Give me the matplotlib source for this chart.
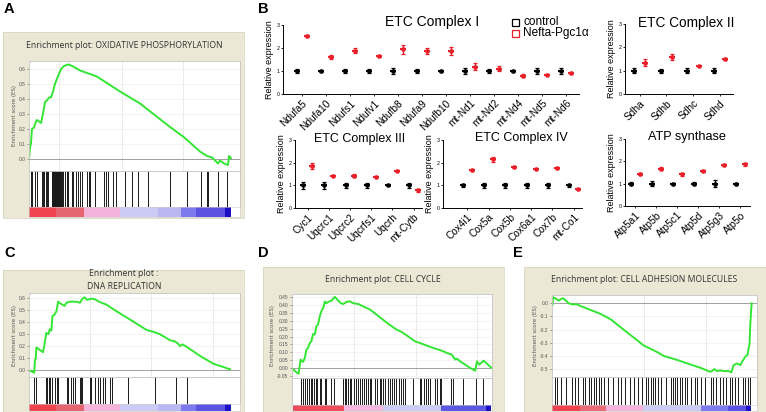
import numpy as np
import matplotlib
matplotlib.use("Agg")
import matplotlib.pyplot as plt
from matplotlib.patches import Rectangle

plt.rcParams["font.family"] = ["Liberation Sans", "DejaVu Sans"]
plt.rcParams["axes.unicode_minus"] = False

W, H = 766, 412
BEIGE = "#ebe8d6"
GREEN = "#33e633"
RED = "#e8202a"

# ---------------- panel B data ----------------
c1_genes = ["Ndufa5", "Ndufa10", "Ndufs1", "Ndufv1", "Ndufb8", "Ndufa9", "Ndufb10",
            "mt-Nd1", "mt-Nd2", "mt-Nd4", "mt-Nd5", "mt-Nd6"]
c1_ctrl = [1.0] * 12
c1_ctrl_err = [0.08, 0.05, 0.1, 0.07, 0.12, 0.1, 0.03, 0.15, 0.1, 0.05, 0.15, 0.12]
c1_pgc = [2.53, 1.62, 1.88, 1.65, 1.95, 1.85, 1.88, 1.18, 1.1, 0.8, 0.83, 0.92]
c1_pgc_err = [0.05, 0.08, 0.1, 0.02, 0.2, 0.13, 0.17, 0.15, 0.12, 0.07, 0.02, 0.03]

c2_genes = ["Sdha", "Sdhb", "Sdhc", "Sdhd"]
c2_ctrl = [1.0] * 4
c2_ctrl_err = [0.1, 0.08, 0.1, 0.1]
c2_pgc = [1.33, 1.58, 1.2, 1.5]
c2_pgc_err = [0.15, 0.12, 0.02, 0.05]

c3_genes = ["Cyc1", "Uqcrc1", "Uqcrc2", "Uqcrfs1", "Uqcrh", "mt-Cytb"]
c3_ctrl = [1.0] * 6
c3_ctrl_err = [0.15, 0.15, 0.1, 0.12, 0.03, 0.1]
c3_pgc = [1.85, 1.42, 1.42, 1.37, 1.65, 0.78]
c3_pgc_err = [0.13, 0.03, 0.06, 0.02, 0.02, 0.06]

c4_genes = ["Cox4i1", "Cox5a", "Cox5b", "Cox6a1", "Cox7b", "mt-Co1"]
c4_ctrl = [1.0] * 6
c4_ctrl_err = [0.08, 0.12, 0.12, 0.12, 0.12, 0.08]
c4_pgc = [1.67, 2.15, 1.8, 1.72, 1.75, 0.82]
c4_pgc_err = [0.03, 0.1, 0.02, 0.02, 0.03, 0.03]

atp_genes = ["Atp5a1", "Atp5b", "Atp5c1", "Atp5d", "Atp5g3", "Atp5o"]
atp_ctrl = [1.0] * 6
atp_ctrl_err = [0.06, 0.12, 0.05, 0.08, 0.15, 0.05]
atp_pgc = [1.43, 1.67, 1.43, 1.57, 1.83, 1.87]
atp_pgc_err = [0.04, 0.07, 0.07, 0.04, 0.04, 0.06]

# ---------------- GSEA data (x = fraction of ranked list) ----------------
a_x = [0, 0.005, 0.009, 0.014, 0.024, 0.033, 0.038, 0.047, 0.057, 0.066, 0.076, 0.085,
       0.095, 0.104, 0.114, 0.123, 0.137, 0.152, 0.166, 0.188, 0.204, 0.242, 0.321, 0.431,
       0.526, 0.653, 0.739, 0.81, 0.844, 0.867, 0.882, 0.896, 0.905, 0.924, 0.943, 0.948, 0.957]
a_es = [0.0, 0.08, 0.1, 0.2, 0.21, 0.25, 0.26, 0.25, 0.24, 0.3, 0.38, 0.39,
        0.41, 0.41, 0.45, 0.5, 0.55, 0.6, 0.62, 0.63, 0.62, 0.59, 0.55, 0.45,
        0.37, 0.23, 0.14, 0.05, 0.02, 0.01, -0.01, -0.03, -0.01, -0.03, -0.04, 0.02, 0.005]
a_hits = [0.009, 0.016, 0.028, 0.036, 0.060, 0.065, 0.071, 0.079, 0.084, 0.092, 0.107, 0.109,
          0.112, 0.114, 0.117, 0.119, 0.122, 0.124, 0.126, 0.129, 0.131, 0.134, 0.136, 0.139,
          0.141, 0.143, 0.145, 0.148, 0.150, 0.155, 0.163, 0.171, 0.179, 0.186, 0.202, 0.210,
          0.221, 0.231, 0.242, 0.253, 0.273, 0.286, 0.291, 0.313, 0.357, 0.365, 0.376, 0.400,
          0.411, 0.455, 0.487, 0.518, 0.562, 0.668, 0.747, 0.814, 0.842, 0.850, 0.897, 0.937]

c_x = [0, 0.019, 0.025, 0.028, 0.032, 0.035, 0.066, 0.073, 0.082, 0.092, 0.098, 0.106,
       0.111, 0.12, 0.13, 0.138, 0.153, 0.169, 0.177, 0.193, 0.217, 0.233, 0.241, 0.253,
       0.264, 0.275, 0.296, 0.312, 0.335, 0.367, 0.415, 0.494, 0.557, 0.589, 0.62, 0.668,
       0.691, 0.707, 0.715, 0.728, 0.747, 0.81, 0.873, 0.953]
c_es = [0.0, -0.015, -0.02, 0.08, 0.1, 0.19, 0.15, 0.21, 0.31, 0.3, 0.34, 0.33,
        0.45, 0.46, 0.49, 0.57, 0.55, 0.535, 0.56, 0.57, 0.57, 0.567, 0.56, 0.595,
        0.606, 0.585, 0.595, 0.59, 0.567, 0.545, 0.49, 0.405, 0.335, 0.32, 0.3, 0.25,
        0.24, 0.22, 0.2, 0.215, 0.195, 0.12, 0.055, 0.008]
c_hits = [0.025, 0.032, 0.079, 0.085, 0.095, 0.101, 0.110, 0.123, 0.134, 0.139, 0.179, 0.186,
          0.199, 0.210, 0.218, 0.242, 0.246, 0.253, 0.289, 0.294, 0.313, 0.325, 0.336, 0.352,
          0.360, 0.384, 0.392, 0.468, 0.597, 0.695, 0.750]

d_x = [0, 0.022, 0.033, 0.043, 0.055, 0.064, 0.072, 0.08, 0.089, 0.097, 0.105, 0.114,
       0.122, 0.13, 0.139, 0.147, 0.156, 0.164, 0.172, 0.181, 0.197, 0.214, 0.231, 0.244,
       0.256, 0.273, 0.289, 0.306, 0.331, 0.356, 0.39, 0.423, 0.465, 0.498, 0.523, 0.548,
       0.582, 0.615, 0.649, 0.682, 0.716, 0.749, 0.774, 0.799, 0.816, 0.824, 0.841, 0.866,
       0.891, 0.916, 0.925, 0.936, 0.958, 0.983, 1.0]
d_es = [0.0, -0.025, -0.034, 0.055, 0.04, 0.065, 0.118, 0.128, 0.16, 0.17, 0.216, 0.212,
        0.265, 0.275, 0.328, 0.36, 0.38, 0.42, 0.41, 0.418, 0.426, 0.45, 0.426, 0.41,
        0.405, 0.418, 0.422, 0.41, 0.405, 0.39, 0.37, 0.338, 0.296, 0.265, 0.244, 0.229,
        0.2, 0.17, 0.155, 0.139, 0.124, 0.111, 0.097, 0.086, 0.055, 0.061, 0.044, 0.023,
        0.002, -0.015, 0.044, 0.023, 0.048, 0.019, 0.002]
d_hits = [0.043, 0.055, 0.067, 0.075, 0.083, 0.093, 0.1, 0.11, 0.12, 0.127, 0.138, 0.147,
          0.163, 0.172, 0.197, 0.21, 0.255, 0.263, 0.272, 0.28, 0.288, 0.297, 0.308, 0.322,
          0.33, 0.338, 0.35, 0.36, 0.372, 0.38, 0.388, 0.397, 0.417, 0.427, 0.438, 0.447,
          0.455, 0.463, 0.48, 0.488, 0.5, 0.51, 0.522, 0.533, 0.543, 0.555, 0.563, 0.605,
          0.638, 0.647, 0.66, 0.672, 0.68, 0.688, 0.713, 0.725, 0.738, 0.747, 0.797, 0.805,
          0.855, 0.922, 0.955]

e_x = [0.003, 0.005, 0.016, 0.033, 0.041, 0.054, 0.065, 0.081, 0.098, 0.122, 0.138, 0.187,
       0.236, 0.285, 0.333, 0.382, 0.447, 0.512, 0.545, 0.61, 0.675, 0.724, 0.772, 0.78,
       0.792, 0.805, 0.821, 0.837, 0.862, 0.875, 0.886, 0.902, 0.919, 0.927, 0.943, 0.954,
       0.959, 0.964, 0.967, 0.971, 0.974]
e_es = [-0.01, 0.046, 0.038, 0.02, 0.03, 0.038, 0.025, 0.0, -0.008, -0.008, -0.02, -0.05,
        -0.08, -0.12, -0.18, -0.24, -0.32, -0.37, -0.4, -0.43, -0.465, -0.49, -0.52, -0.515,
        -0.5, -0.515, -0.51, -0.515, -0.515, -0.525, -0.47, -0.457, -0.47, -0.445, -0.406, -0.39,
        -0.343, -0.305, -0.165, -0.063, 0.0]
e_hits = [0.013, 0.026, 0.046, 0.07, 0.098, 0.114, 0.127, 0.151, 0.163, 0.179, 0.192, 0.205,
          0.216, 0.228, 0.241, 0.254, 0.273, 0.298, 0.322, 0.335, 0.358, 0.379, 0.4, 0.42,
          0.439, 0.46, 0.468, 0.481, 0.493, 0.504, 0.517, 0.533, 0.558, 0.579, 0.59, 0.602,
          0.611, 0.623, 0.634, 0.647, 0.66, 0.676, 0.696, 0.709, 0.725, 0.745, 0.774, 0.785,
          0.802, 0.818, 0.834, 0.85, 0.867, 0.878, 0.891, 0.907, 0.932, 0.94, 0.956, 0.964]

# ranked-list colour bar: (start, end, colour)
cb_ac = [(0, 0.13, "#ee4450"), (0.13, 0.26, "#e6646f"), (0.26, 0.43, "#f5b3dc"),
         (0.43, 0.61, "#cccbf5"), (0.61, 0.72, "#b9b8f3"), (0.72, 0.79, "#7d7aee"),
         (0.79, 0.93, "#5b52e1"), (0.93, 0.955, "#1c10c2")]
cb_d = [(0.005, 0.26, "#ec4c5c"), (0.26, 0.455, "#f3b6dc"), (0.455, 0.747, "#cccbf5"),
        (0.747, 0.97, "#5c56e2"), (0.97, 0.997, "#1c10c2")]
cb_e = [(0, 0.135, "#ee4450"), (0.135, 0.265, "#ea6a78"), (0.265, 0.444, "#f5b3dc"),
        (0.444, 0.728, "#cccbf5"), (0.728, 0.859, "#7d7aee"), (0.859, 0.948, "#5b52e1"),
        (0.948, 0.972, "#1c10c2")]


def rect(x0, y0, x1, y1):
    return [x0 / W, 1 - y1 / H, (x1 - x0) / W, (y1 - y0) / H]


fig = plt.figure(figsize=(W / 100, H / 100), dpi=100)


def gsea(box, es_box, hit_box, cb_box, title, title_xy, xs, ys, ylim, yticks, fmt,
         hits, segs, vgrid):
    bg = fig.add_axes(rect(*box), zorder=0)
    bg.set_facecolor(BEIGE)
    bg.set_xticks([]); bg.set_yticks([])
    for s in bg.spines.values():
        s.set_color("#d6d2bd"); s.set_linewidth(0.5)

    ax = fig.add_axes(rect(*es_box), zorder=1)
    for g in vgrid:
        ax.axvline(g, color="#e6e6e6", lw=0.6, zorder=0)
    for t in yticks:
        ax.axhline(t, color="#efefef", lw=0.5, zorder=0)
    ax.axhline(0, color="#a0a0a0", lw=0.7, zorder=1)
    ax.plot(xs, ys, color=GREEN, lw=1.4, zorder=2)
    ax.set_xlim(0, 1); ax.set_ylim(*ylim)
    ax.set_xticks([])
    ax.set_yticks(yticks)
    ax.set_yticklabels([fmt % t for t in yticks])
    ax.tick_params(axis="y", labelsize=3.5, length=1.5, width=0.4, pad=1,
                   colors="#555555")
    ax.set_ylabel("Enrichment score (ES)", fontsize=4, labelpad=1.5, color="#555555",
                  family="DejaVu Sans")
    for s in ax.spines.values():
        s.set_color("#c4c4c4"); s.set_linewidth(0.6)

    hx = fig.add_axes(rect(*hit_box), zorder=1)
    hx.vlines(hits, 0, 1, color="#1a1a1a", lw=0.7)
    hx.set_xlim(0, 1); hx.set_ylim(0, 1)
    hx.set_xticks([]); hx.set_yticks([])
    for s in hx.spines.values():
        s.set_color("#c4c4c4"); s.set_linewidth(0.6)

    cx = fig.add_axes(rect(*cb_box), zorder=1)
    for a, b, c in segs:
        cx.axvspan(a, b, color=c, lw=0)
    cx.set_xlim(0, 1); cx.set_ylim(0, 1)
    cx.set_xticks([]); cx.set_yticks([])
    for s in cx.spines.values():
        s.set_color("#d0d0d0"); s.set_linewidth(0.4)

    fig.text(title_xy[0] / W, 1 - title_xy[1] / H, title, fontsize=6.2,
             family="Open Sans", color="#333333", ha="center", va="center",
             linespacing=1.5)


def expr(axbox, genes, ctrl, ctrl_err, pgc, pgc_err, title, title_xy, title_fs, xlim,
         off=0.42):
    ax = fig.add_axes(rect(*axbox))
    x = np.arange(len(genes))
    for xx, m, e, col in [(x, ctrl, ctrl_err, "k"), (x + off, pgc, pgc_err, RED)]:
        ax.errorbar(xx, m, yerr=e, fmt="o", color=col, ms=2.3, capsize=1.6,
                    elinewidth=1.0, capthick=0.9, zorder=3)
        ax.plot(xx, m, "_", color=col, ms=5, mew=1.5, zorder=3)
    ax.set_ylim(0, 3); ax.set_xlim(*xlim)
    ax.set_yticks([0, 1, 2, 3])
    ax.tick_params(axis="y", labelsize=3.8, length=1.5, width=0.6, pad=1)
    ax.set_xticks(x + off / 2)
    ax.set_xticklabels(genes, rotation=45, ha="right", rotation_mode="anchor",
                       fontsize=7.3)
    ax.tick_params(axis="x", length=1.5, width=0.6, pad=1.5)
    ax.set_ylabel("Relative expression", fontsize=6.5, labelpad=1.5)
    for s in ["top", "right"]:
        ax.spines[s].set_visible(False)
    for s in ["left", "bottom"]:
        ax.spines[s].set_linewidth(0.7)
    fig.text(title_xy[0] / W, 1 - title_xy[1] / H, title, fontsize=title_fs,
             ha="center", va="center")


# panel A
gsea((3, 32, 244, 218), (29, 61, 240, 171), (29, 171, 240, 207), (29, 207, 240, 217),
     "Enrichment plot: OXIDATIVE PHOSPHORYLATION", (124, 45), a_x, a_es,
     (-0.08, 0.653), [0.0, 0.1, 0.2, 0.3, 0.4, 0.5, 0.6], "%.1f", a_hits, cb_ac,
     [0.14, 0.44, 0.73])
# panel C
gsea((3, 270, 244, 413), (29, 293, 240, 377), (29, 377, 240, 404), (29, 404, 240, 411),
     "Enrichment plot :\nDNA REPLICATION", (124, 280), c_x, c_es,
     (-0.056, 0.642), [0.0, 0.1, 0.2, 0.3, 0.4, 0.5, 0.6], "%.1f", c_hits, cb_ac,
     [0.29, 0.58, 0.87])
# panel D
gsea((263, 267, 504, 413), (292, 294, 492, 378), (292, 378, 492, 405), (292, 405, 492, 411),
     "Enrichment plot: CELL CYCLE", (383, 280), d_x, d_es,
     (-0.061, 0.468), [-0.05, 0.0, 0.05, 0.1, 0.15, 0.2, 0.25, 0.3, 0.35, 0.4, 0.45],
     "%.2f", d_hits, cb_d, [0.31, 0.62, 0.925])
# panel E
gsea((524, 267, 767, 413), (552, 295, 757, 377), (552, 377, 757, 405), (552, 405, 757, 411),
     "Enrichment plot: CELL ADHESION MOLECULES", (644, 280), e_x, e_es,
     (-0.56, 0.063), [-0.5, -0.4, -0.3, -0.2, -0.1, 0.0], "%.1f", e_hits, cb_e,
     [0.45, 0.75])

# panel B
expr((283, 25, 579, 94), c1_genes, c1_ctrl, c1_ctrl_err, c1_pgc, c1_pgc_err,
     "ETC Complex I", (432, 22), 10, (-0.58, 11.75))
expr((625, 24, 733, 94), c2_genes, c2_ctrl, c2_ctrl_err, c2_pgc, c2_pgc_err,
     "ETC Complex II", (686, 23), 9.8, (-0.34, 3.71))
expr((295, 140, 422, 208), c3_genes, c3_ctrl, c3_ctrl_err, c3_pgc, c3_pgc_err,
     "ETC Complex III", (360, 139), 9, (-0.38, 5.6))
expr((443, 140, 582, 208), c4_genes, c4_ctrl, c4_ctrl_err, c4_pgc, c4_pgc_err,
     "ETC Complex IV", (521, 138), 9, (-0.94, 5.6))
expr((625, 139, 750, 206), atp_genes, atp_ctrl, atp_ctrl_err, atp_pgc, atp_pgc_err,
     "ATP synthase", (687, 137), 9.2, (-0.29, 5.67))

# legend for B
for i, (lab, col) in enumerate([("control", "k"), ("Nefta-Pgc1\u03b1", RED)]):
    yc = 22 + 11 * i
    fig.patches.append(Rectangle((512 / W, 1 - (yc + 3.5) / H), 7 / W, 7 / H,
                                 transform=fig.transFigure, fill=False, ec=col, lw=0.9))
    fig.text(523 / W, 1 - yc / H, lab, fontsize=8.5, va="center", ha="left")

# panel letters
for lab, x, y in [("A", 4, 9), ("B", 258, 9), ("C", 4, 253), ("D", 258, 253), ("E", 513, 253)]:
    fig.text(x / W, 1 - y / H, lab, fontsize=10.5, weight="heavy", va="center", ha="left")

fig.savefig("out.png", dpi=100)
